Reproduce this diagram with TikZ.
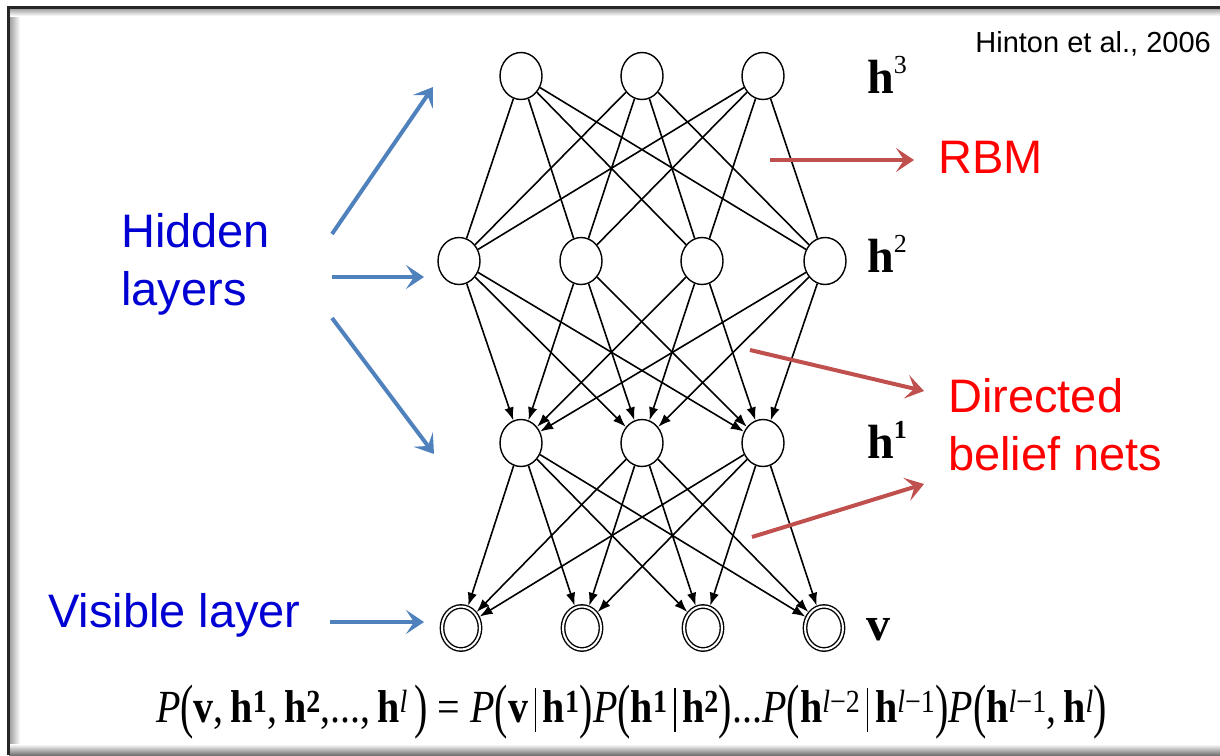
\documentclass[tikz,border=0pt]{standalone}
\usepackage{fontspec}
\usepackage{graphicx}
\setmainfont{Liberation Serif}
\newfontfamily\arialfont{Liberation Sans}
\usetikzlibrary{arrows.meta,shapes.geometric}
\definecolor{slideblue}{RGB}{79,129,189}
\definecolor{slidered}{RGB}{192,80,77}
\definecolor{labelblue}{RGB}{0,0,210}
\newcommand\bh{\textbf{h}}
\newcommand\tallpar[1]{\raisebox{-0.2ex}{\scalebox{1}[1.3]{#1}}}
\newcommand\givenbar{\,\rule[-0.22em]{0.035em}{0.95em}\,}

\begin{document}
\begin{tikzpicture}[x=1pt,y=-1pt,
    unit/.style={ellipse,draw,line width=1.4pt,fill=white,inner sep=0pt,
      minimum width=42pt,minimum height=47pt},
    visunit/.style={unit,double,line width=1.4pt,double distance=2pt,
      minimum width=38pt,minimum height=43pt},
    link/.style={line width=1.6pt},
    dlink/.style={link,-{Latex[length=13pt,width=9.5pt]}},
    bluearrow/.style={slideblue,line width=4pt,
      -{Stealth[length=18pt,width=24pt,inset=8pt]}},
    redarrow/.style={bluearrow,slidered},
    side/.style={font=\arialfont\fontsize{47}{58}\selectfont,
      anchor=base west,inner sep=0pt,align=left},
    layer/.style={font=\fontsize{48}{48}\selectfont,anchor=base west,inner sep=0pt}]
  \useasboundingbox (0,0) rectangle (1220,755);
  % frame with its shadow
  \shade[left color=black!40,right color=white] (9,8) rectangle (20,755);
  \shade[top color=black!40,bottom color=white] (9,8) rectangle (1220,16);
  \shade[top color=white,bottom color=black!55] (9,744) rectangle (1220,755);
  \fill[black!85] (7,6) rectangle (1220,8.5);
  \fill[black!85] (7,6) rectangle (9.5,755);
  % units, top to bottom
  \node[unit] (h3-1) at (521,76) {};
  \node[unit] (h3-2) at (642,76) {};
  \node[unit] (h3-3) at (763,76) {};
  \node[unit] (h2-1) at (459,261) {};
  \node[unit] (h2-2) at (581,261) {};
  \node[unit] (h2-3) at (702,261) {};
  \node[unit] (h2-4) at (825,261) {};
  \node[unit] (h1-1) at (521,443) {};
  \node[unit] (h1-2) at (642,443) {};
  \node[unit] (h1-3) at (763,443) {};
  \node[visunit] (v-1) at (461,628) {};
  \node[visunit] (v-2) at (582,628) {};
  \node[visunit] (v-3) at (703,628) {};
  \node[visunit] (v-4) at (824,628) {};
  \foreach \i in {1,2,3}
    \foreach \j in {1,2,3,4} {
      \draw[link] (h3-\i) -- (h2-\j);
      \draw[dlink] (h2-\j) -- (h1-\i);
      \draw[dlink,shorten >=1.5pt] (h1-\i) -- (v-\j);
    }
  % layer names
  \node[layer] (lh3) at (867,93) {\bh\raisebox{20pt}{\fontsize{26}{26}\selectfont 3}};
  \node[layer] (lh2) at (867,272) {\bh\raisebox{20pt}{\fontsize{26}{26}\selectfont 2}};
  \node[layer] (lh1) at (867,458) {\bh\raisebox{20pt}{\fontsize{26}{26}\selectfont\bfseries 1}};
  \node[layer] (lv) at (866,640) {\textbf{v}};
  \node[anchor=base east,inner sep=0pt,font=\arialfont\fontsize{29}{29}\selectfont]
    (cite) at (1211,52) {Hinton et al., 2006};
  % left side
  \node[side,labelblue] (hidden) at (121,247) {Hidden};
  \node[side,labelblue] (layers) at (121,305) {layers};
  \node[side,labelblue] (visible) at (48,627) {Visible layer};
  \coordinate (b1s) at (332,234);
  \coordinate (b1e) at (433,87);
  \coordinate (b2s) at (332,277);
  \coordinate (b2e) at (424,277);
  \coordinate (b3s) at (332,318);
  \coordinate (b3e) at (434,454);
  \coordinate (b4s) at (330,622);
  \coordinate (b4e) at (424,622);
  \draw[bluearrow] (b1s) -- (b1e);
  \draw[bluearrow] (b2s) -- (b2e);
  \draw[bluearrow] (b3s) -- (b3e);
  \draw[bluearrow] (b4s) -- (b4e);
  % right side
  \node[side,red] (rbm) at (938,173) {RBM};
  \node[side,red] (directed) at (948,412) {Directed};
  \node[side,red] (belief) at (948,470) {belief nets};
  \coordinate (r1s) at (770,160);
  \coordinate (r1e) at (914,160);
  \coordinate (r2s) at (750,350);
  \coordinate (r2e) at (924,391);
  \coordinate (r3s) at (752,537);
  \coordinate (r3e) at (924,484);
  \draw[redarrow] (r1s) -- (r1e);
  \draw[redarrow] (r2s) -- (r2e);
  \draw[redarrow] (r3s) -- (r3e);
  % joint distribution
  \node[anchor=base west,inner sep=0pt,font=\fontsize{44}{44}\selectfont] (joint) at (156,722)
    {\resizebox{951pt}{!}{\scalebox{1}[1.15]{\textit{P}\tallpar{(}\textbf{v},\,\bh\textsuperscript{\textbf{1}},\,\bh\textsuperscript{\textbf{2}},...,\,\bh\textsuperscript{\textit{l}}\,\tallpar{)}
     = \textit{P}\tallpar{(}\textbf{v}\givenbar\bh\textsuperscript{\textbf{1}}\tallpar{)}\textit{P}\tallpar{(}\bh\textsuperscript{\textbf{1}}\givenbar\bh\textsuperscript{\textbf{2}}\tallpar{)}...\textit{P}\tallpar{(}\bh\textsuperscript{\textit{l}−2}\givenbar\bh\textsuperscript{\textit{l}−1}\tallpar{)}\textit{P}\tallpar{(}\bh\textsuperscript{\textit{l}−1},\,\bh\textsuperscript{\textit{l}}\tallpar{)}}}};
\end{tikzpicture}
\end{document}
